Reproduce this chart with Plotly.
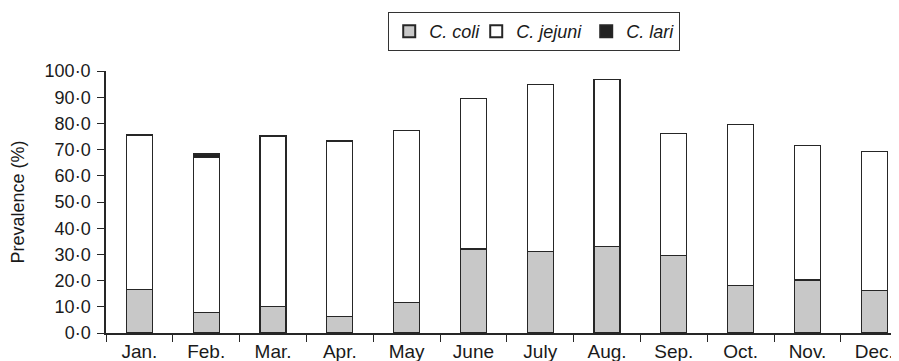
import plotly.graph_objects as go

months = ["Jan.", "Feb.", "Mar.", "Apr.", "May", "June", "July", "Aug.", "Sep.", "Oct.", "Nov.", "Dec."]
c_coli = [16.7, 7.8, 10.0, 6.2, 11.6, 32.1, 31.0, 32.9, 29.5, 18.1, 20.2, 16.1]
c_jejuni = [58.9, 59.3, 65.2, 67.1, 65.6, 57.5, 64.0, 64.0, 46.7, 61.5, 51.4, 53.1]
c_lari = [None, 1.2, None, None, None, None, None, None, None, None, None, None]
y_ticks = [0, 10, 20, 30, 40, 50, 60, 70, 80, 90, 100]
y_tick_labels = [f"{v}·0" for v in y_ticks]

edge = "#262626"
font = "Liberation Sans, Arial, sans-serif"

fig = go.Figure()
fig.add_bar(x=months, y=c_coli, name="<i>C. coli</i>", legendwidth=42,
            marker=dict(color="#c8c8c8", line=dict(color=edge, width=1.2)))
fig.add_bar(x=months, y=c_jejuni, name="<i>C. jejuni</i>", legendwidth=65,
            marker=dict(color="#ffffff", line=dict(color=edge, width=1.2)))
fig.add_bar(x=months, y=c_lari, name="<i>C. lari</i>", legendwidth=48,
            marker=dict(color="#222222", line=dict(color=edge, width=1.2)))

fig.update_layout(
    barmode="stack",
    bargap=0.61,
    width=891, height=370,
    margin=dict(l=98, r=0, t=63, b=45, autoexpand=False),
    paper_bgcolor="white", plot_bgcolor="white",
    font=dict(family=font, size=17, color="#1a1a1a"),
    showlegend=True,
    legend=dict(orientation="h", x=0.540, xanchor="center", y=1.225, yanchor="top",
                bordercolor="#333", borderwidth=1, font=dict(size=18, color="#1a1a1a"),
                traceorder="normal", itemsizing="constant", itemwidth=30, tracegroupgap=0),
    xaxis=dict(range=[-0.5, 11.37], showline=True, linecolor=edge, linewidth=1.5,
               ticks="outside", tickson="boundaries", ticklen=7, tickcolor=edge, tickwidth=1.2,
               showgrid=False, tickfont=dict(size=19, color="#1a1a1a"), ticklabelstandoff=0),
    yaxis=dict(range=[0, 100], tickvals=y_ticks, ticktext=y_tick_labels, showline=True,
               linecolor=edge, linewidth=1.5, ticks="outside", ticklen=7, tickcolor=edge,
               tickwidth=1.2, showgrid=False, zeroline=False, tickfont=dict(size=18, color="#1a1a1a"),
               ticklabelstandoff=3,
               title=dict(text="Prevalence (%)", font=dict(size=18, color="#1a1a1a"), standoff=20)),
)

fig.write_html("out.html")
